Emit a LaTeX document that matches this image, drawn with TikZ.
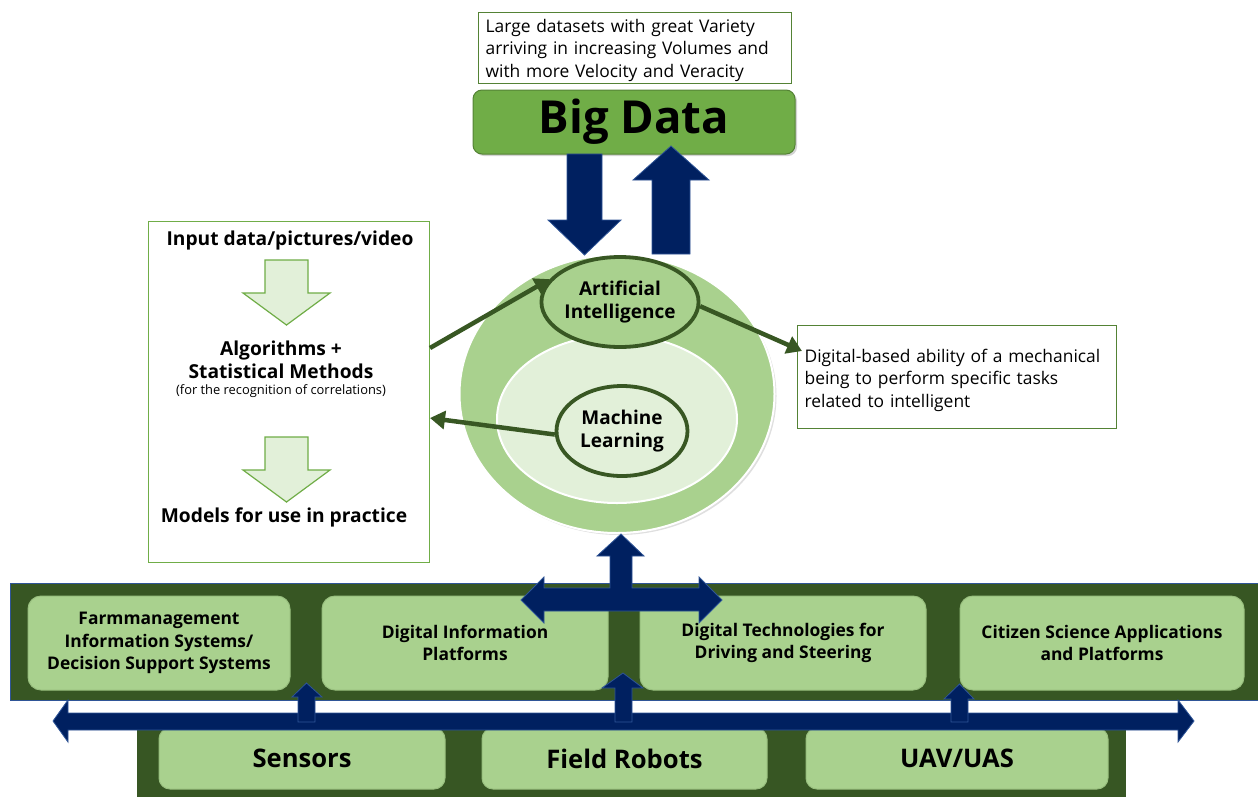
\documentclass[tikz,border=0pt]{standalone}
\usepackage{fontspec}
\setmainfont{Open Sans}
\usetikzlibrary{shapes.geometric,arrows.meta,shadows}
\definecolor{navy}{HTML}{002060}
\definecolor{navyedge}{HTML}{2F5597}
\definecolor{dkgreen}{HTML}{385723}
\definecolor{band}{HTML}{375623}
\definecolor{midgreen}{HTML}{70AD47}
\definecolor{litgreen}{HTML}{A9D18E}
\definecolor{palegreen}{HTML}{E2F0D9}
\definecolor{edgegreen}{HTML}{548235}
\begin{document}
\begin{tikzpicture}[x=1pt,y=-1pt,
  txtframe/.style={draw=edgegreen,line width=1.2pt,fill=white,anchor=north west,inner sep=0pt},
  txtbody/.style={inner sep=0pt,font=\fontsize{17.4}{22.5}\selectfont,align=left},
  navyarrow/.style={fill=navy,draw=navyedge,line width=0.8pt,line join=miter},
  blockarrow/.style={fill=palegreen,draw=midgreen,line width=1.2pt},
  conn/.style={draw=dkgreen,line width=4.5pt,-{Triangle[length=15pt,width=18pt]}},
  boldlbl/.style={font=\bfseries\fontsize{19.2}{23.5}\selectfont,align=center,inner sep=0pt},
  upbox/.style={fill=litgreen,draw=litgreen!85!band,line width=1pt,rounded corners=13pt,
    minimum height=94pt,font=\bfseries\fontsize{17.4}{22.5}\selectfont,align=center,inner sep=0pt},
  lowbox/.style={fill=litgreen,draw=litgreen!85!band,line width=1pt,rounded corners=11pt,
    minimum height=61pt,font=\bfseries\fontsize{25.6}{28}\selectfont,inner sep=0pt},
  ell/.style={ellipse,inner sep=0pt}
]
\useasboundingbox (0,0) rectangle (1258,796);

% ---------- top ----------
\node[txtframe,minimum width=313pt,minimum height=71pt] (desc) at (478,12) {};
\node[txtbody,text width=299pt] (desctext) at ([yshift=-2pt]desc.center)
  {Large datasets with great Variety\\arriving in increasing Volumes and\\with more Velocity and Veracity};
\node[fill=midgreen,draw=edgegreen,line width=1pt,rounded corners=9pt,minimum width=322pt,minimum height=64pt,
  drop shadow={opacity=0.35,shadow xshift=2pt,shadow yshift=-2pt},
  font=\bfseries\fontsize{45.5}{50}\selectfont,inner sep=0pt] (bigdata) at (634,122) {Big Data};

% ---------- ellipses ----------
\node[ell,fill=litgreen,draw=white,line width=2pt,minimum width=315pt,minimum height=278pt,
  drop shadow={opacity=0.25,shadow xshift=2pt,shadow yshift=-2pt}] (outer) at (617,394) {};
\node[ell,fill=palegreen,draw=white,line width=2pt,minimum width=240pt,minimum height=168pt] (inner) at (617,419) {};
\node[ell,fill=litgreen,draw=dkgreen,line width=3.8pt,minimum width=134pt,minimum height=90pt,
  font=\bfseries\fontsize{19}{24}\selectfont,align=center] (ai) at (620,302) {Artificial\\[-1pt]Intelligence};
\node[ell,fill=palegreen,draw=dkgreen,line width=3.8pt,minimum width=131pt,minimum height=90pt,
  font=\bfseries\fontsize{19}{24}\selectfont,align=center] (ml) at (622,431) {Machine\\[-1pt]Learning};

% ---------- navy arrows Big Data <-> AI ----------
\draw[navyarrow] (567,154) -- (602,154) -- (602,220) -- (621,220) -- (584.5,255) -- (548,220) -- (567,220) -- cycle;
\draw[navyarrow] (652,254) -- (690,254) -- (690,180) -- (709,180) -- (671,146) -- (633,180) -- (652,180) -- cycle;

% ---------- left box ----------
\node[draw=midgreen,line width=1.2pt,fill=white,minimum width=281pt,minimum height=341pt,anchor=north west] (lb) at (148,221) {};
\node[boldlbl] (inp) at (290,241) {Input data/pictures/video};
\draw[blockarrow] (265,260) -- (308,260) -- (308,293) -- (330,293) -- (286.5,325) -- (243,293) -- (265,293) -- cycle;
\node[boldlbl] (alg) at (281,360) {Algorithms +\\Statistical Methods};
\node[font=\fontsize{12.9}{14}\selectfont,inner sep=0pt] (corr) at (281,391) {(for the recognition of correlations)};
\draw[blockarrow] (265,437) -- (308,437) -- (308,470) -- (330,470) -- (286.5,502) -- (243,470) -- (265,470) -- cycle;
\node[boldlbl] (mod) at (284,517) {Models for use in practice};

% ---------- right box ----------
\node[txtframe,minimum width=319pt,minimum height=103pt] (rb) at (797,325) {};
\node[txtbody,text width=305pt] (rbtext) at ([yshift=-3pt]rb.center)
  {Digital-based ability of a mechanical\\being to perform specific tasks\\related to intelligent};

% ---------- green connectors ----------
\coordinate (lbin) at (430,348);
\coordinate (lbout) at (430,418);
\coordinate (rbin) at (802,351);
\draw[conn] (lbin) -- (ai.162);
\draw[conn] (ml.183) -- (lbout);
\draw[conn] (ai.-3) -- (rbin);

% ---------- bottom bands ----------
\node[fill=band,draw=navyedge,line width=1pt,minimum width=1252pt,minimum height=117pt,anchor=north west,inner sep=0pt] (upband) at (10,583) {};
\node[fill=band,minimum width=989pt,minimum height=90pt,anchor=north west,inner sep=0pt] (lowband) at (137,715) {};

\node[upbox,minimum width=262pt] (fmis) at (159,643) {Farmmanagement\\Information Systems/\\Decision Support Systems};
\node[upbox,minimum width=286pt] (dip) at (465,643) {Digital Information\\Platforms};
\node[upbox,minimum width=286pt] (dtd) at (783,643) {Digital Technologies for\\Driving and Steering};
\node[upbox,minimum width=284pt] (csa) at (1102,643) {Citizen Science Applications\\and Platforms};

\node[lowbox,minimum width=286pt] (sens) at (302,758.5) {Sensors};
\node[lowbox,minimum width=285pt] (robots) at (624.5,758.5) {Field Robots};
\node[lowbox,minimum width=302pt] (uav) at (957,758.5) {UAV/UAS};

% ---------- navy arrows bottom ----------
% long double arrow
\draw[navyarrow] (53,721) -- (68,700) -- (68,713) -- (1178,713) -- (1178,700) -- (1194,721) -- (1178,742) -- (1178,730) -- (68,730) -- (68,742) -- cycle;
% small up arrows
\draw[navyarrow] (298,722) -- (298,697) -- (292,697) -- (306.5,683) -- (322,697) -- (315,697) -- (315,722) -- cycle;
\draw[navyarrow] (615,722) -- (615,688) -- (602,688) -- (623,673) -- (643,688) -- (632,688) -- (632,722) -- cycle;
\draw[navyarrow] (951,722) -- (951,699) -- (944,699) -- (959.5,684) -- (974,699) -- (968,699) -- (968,722) -- cycle;
% central cross
\draw[navyarrow] (521,600) -- (544,577) -- (544,588) -- (610,588) -- (610,556) -- (597,556) -- (621,534) -- (644,556) -- (632,556)
  -- (632,588) -- (699,588) -- (699,577) -- (722,600) -- (699,623) -- (699,611) -- (544,611) -- (544,623) -- cycle;
\end{tikzpicture}
\end{document}
